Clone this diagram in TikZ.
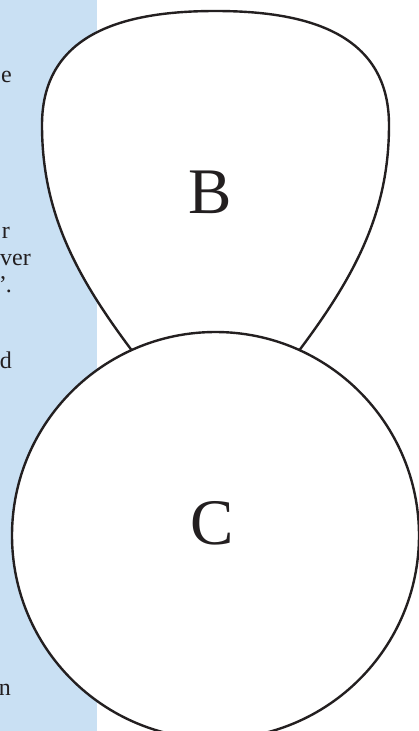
\documentclass[tikz,border=0pt]{standalone}
\usepackage{fontspec}
\setmainfont{Liberation Serif}
\definecolor{panelblue}{HTML}{C9E0F3}
\definecolor{inkgray}{HTML}{231F20}
\begin{document}
\begin{tikzpicture}[x=1pt,y=-1pt,
  outline/.style={draw=inkgray,line width=2.4pt,fill=white},
  biglabel/.style={font=\fontsize{65}{70}\selectfont,text=inkgray,inner sep=0pt},
  sidetext/.style={font=\fontsize{24}{28}\selectfont,text=inkgray,anchor=base east,inner sep=0pt}]
\useasboundingbox (0,0) rectangle (419,731);
\clip (0,0) rectangle (419,731);
\fill[panelblue] (0,0) rectangle (97,731);
% side text fragments
\node[sidetext] (t1) at (12,82) {e};
\node[sidetext] (t2) at (10,238) {r};
\node[sidetext] (t3) at (31,265) {ver};
\node[sidetext] (t4) at (12,292) {”.};
\node[sidetext] (t5) at (12,368) {d};
\node[sidetext] (t6) at (11,695) {n};
% shape B
\draw[outline] (215.5,11) .. controls (130,11) and (42,30) .. (42,125)
  .. controls (42,210) and (74,273) .. (130,348)
  -- (215.5,462) -- (301,348)
  .. controls (357,273) and (389,210) .. (389,125)
  .. controls (389,30) and (301,11) .. (215.5,11) -- cycle;
\node[biglabel] (B) at (210,192) {B};
% circle C
\node[circle,outline,minimum size=407pt,inner sep=0pt] (C) at (215.5,535.5) {};
\node[biglabel] (Clabel) at (212,523) {C};
\end{tikzpicture}
\end{document}
